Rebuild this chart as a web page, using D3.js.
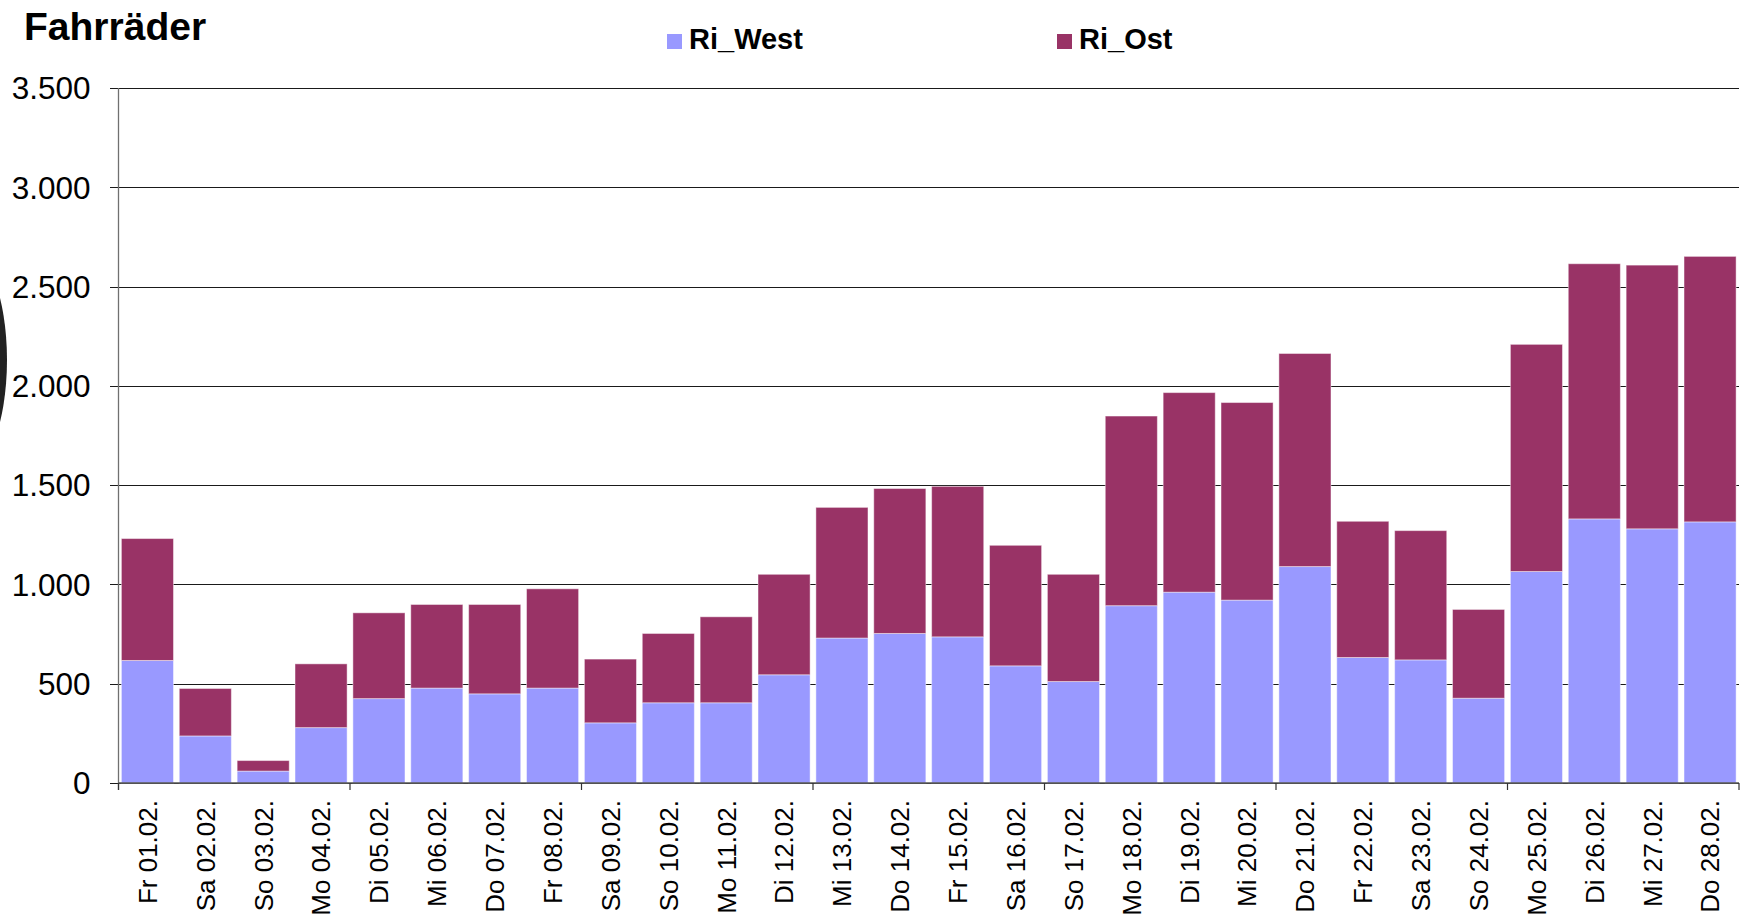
<!DOCTYPE html>
<html>
<head>
<meta charset="utf-8">
<script src="https://cdn.jsdelivr.net/npm/d3@7"></script>
<style>
    body { margin: 0; background: #fff; }
    text { font-family: "Liberation Sans", Arial, sans-serif; }
</style>
</head>
<body>
<div id="chart"></div>
<script>
// data
var days = ["Fr 01.02.", "Sa 02.02.", "So 03.02.", "Mo 04.02.", "Di 05.02.", "Mi 06.02.", "Do 07.02.",
    "Fr 08.02.", "Sa 09.02.", "So 10.02.", "Mo 11.02.", "Di 12.02.", "Mi 13.02.", "Do 14.02.",
    "Fr 15.02.", "Sa 16.02.", "So 17.02.", "Mo 18.02.", "Di 19.02.", "Mi 20.02.", "Do 21.02.",
    "Fr 22.02.", "Sa 23.02.", "So 24.02.", "Mo 25.02.", "Di 26.02.", "Mi 27.02.", "Do 28.02."];
var riWest = [617, 237, 60, 279, 425, 478, 449, 478, 303, 404, 404, 545, 730, 753,
    736, 590, 511, 893, 961, 921, 1090, 632, 620, 427, 1065, 1330, 1280, 1315];
var riOst = [614, 239, 53, 321, 432, 421, 450, 500, 321, 349, 433, 506, 658, 730,
    758, 607, 540, 955, 1005, 995, 1073, 686, 651, 447, 1144, 1285, 1328, 1337];
var yTicks = [0, 500, 1000, 1500, 2000, 2500, 3000, 3500];
var seriesNames = ["Ri_West", "Ri_Ost"];
var colors = ["#9999ff", "#993366"];

var W = 1749, H = 917;
var margin = { top: 88, right: 10, bottom: 134, left: 118.5 },
    width = W - margin.left - margin.right,
    height = H - margin.top - margin.bottom;

var svg = d3.select("#chart").append("svg")
    .attr("width", W)
    .attr("height", H);

// the dark blob on the left edge
svg.append("ellipse")
    .attr("cx", -40).attr("cy", 360)
    .attr("rx", 47).attr("ry", 118)
    .attr("fill", "#222");

var g = svg.append("g")
    .attr("transform", "translate(" + margin.left + "," + margin.top + ")");

// scales
var x = d3.scaleBand().domain(days).range([0, width]).paddingInner(0.1).paddingOuter(0.05);
var xPos = d3.scaleLinear().domain([0, days.length]).range([0, width]);
var y = d3.scaleLinear().domain([0, 3500]).range([height, 0]);

// gridlines + y ticks
g.append("g")
    .call(d3.axisLeft(y).tickValues(yTicks).tickSize(-width - 9).tickFormat(""))
    .attr("transform", "translate(" + width + ",0)")
    .call(function (s) {
        s.select(".domain").remove();
        s.selectAll("line").attr("stroke", "#1a1a1a").attr("shape-rendering", "crispEdges")
            .attr("x1", 0).attr("x2", -width - 9);
    });

// y labels
g.selectAll(".ylab")
    .data(yTicks)
    .enter().append("text")
    .attr("class", "ylab")
    .attr("x", -28)
    .attr("y", function (d) { return y(d); })
    .attr("dy", "0.36em")
    .attr("text-anchor", "end")
    .style("font-size", "31.5px")
    .attr("fill", "#000")
    .text(function (d) { return d3.format(",")(d).replace(/,/g, "."); });

// stacked bars
var rows = days.map(function (d, i) { return { day: d, Ri_West: riWest[i], Ri_Ost: riOst[i] }; });
var stack = d3.stack().keys(seriesNames)(rows);

g.selectAll(".layer")
    .data(stack)
    .enter().append("g")
    .attr("class", "layer")
    .attr("fill", function (d, i) { return colors[i]; })
    .selectAll("rect")
    .data(function (d) { return d; })
    .enter().append("rect")
    .attr("x", function (d) { return x(d.data.day); })
    .attr("y", function (d) { return y(d[1]); })
    .attr("width", x.bandwidth())
    .attr("height", function (d) { return y(d[0]) - y(d[1]); })
    .attr("stroke", "rgba(255,255,255,0.45)")
    .attr("stroke-width", 1);

// axis lines
g.append("line")
    .attr("x1", 0).attr("x2", 0)
    .attr("y1", 0).attr("y2", height + 7)
    .attr("stroke", "#707070").attr("stroke-width", 1.3);
g.append("line")
    .attr("x1", 0).attr("x2", width)
    .attr("y1", height).attr("y2", height)
    .attr("stroke", "#555").attr("stroke-width", 1.3);

// x ticks every 4 days
g.selectAll(".xtick")
    .data(d3.range(0, days.length + 1, 4))
    .enter().append("line")
    .attr("x1", function (d) { return xPos(d); })
    .attr("x2", function (d) { return xPos(d); })
    .attr("y1", height).attr("y2", height + 7)
    .attr("stroke", "#333").attr("stroke-width", 1.2);

// x labels, rotated
g.selectAll(".xlab")
    .data(days)
    .enter().append("text")
    .attr("class", "xlab")
    .attr("transform", function (d) {
        return "translate(" + (x(d) + x.bandwidth() / 2) + "," + (height + 17) + ") rotate(-90)";
    })
    .attr("dy", "0.36em")
    .attr("text-anchor", "end")
    .style("font-size", "26px")
    .attr("fill", "#000")
    .text(function (d) { return d; });

// title
svg.append("text")
    .attr("x", 24).attr("y", 40)
    .style("font-size", "39px")
    .style("font-weight", "bold")
    .text("Fahrräder");

// legend
var legendX = [667, 1057];
var legend = svg.selectAll(".legend")
    .data(seriesNames)
    .enter().append("g")
    .attr("class", "legend")
    .attr("transform", function (d, i) { return "translate(" + legendX[i] + ",0)"; });
legend.append("rect")
    .attr("x", 0).attr("y", 34)
    .attr("width", 15).attr("height", 15)
    .attr("fill", function (d, i) { return colors[i]; });
legend.append("text")
    .attr("x", 22).attr("y", 49)
    .style("font-size", "29px")
    .style("font-weight", "bold")
    .text(function (d) { return d; });
</script>
</body>
</html>
